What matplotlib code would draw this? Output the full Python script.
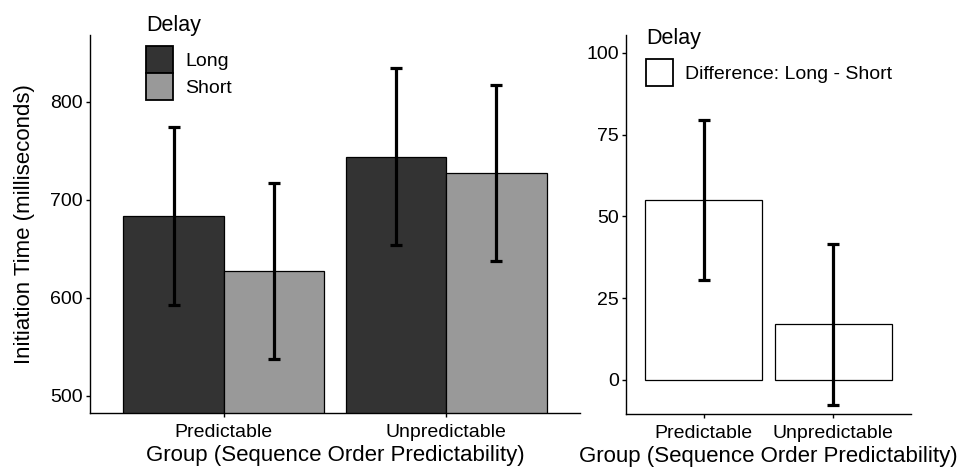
import matplotlib.pyplot as plt
import numpy as np
from matplotlib.patches import Patch

plt.rcParams['font.family'] = ['Liberation Sans', 'DejaVu Sans']

groups = ['Predictable', 'Unpredictable']
delays = ['Long', 'Short']
long_means = [683.5, 744.0]
short_means = [627.5, 727.5]
long_err = [91, 90]
short_err = [90, 90]
diff_means = [55.0, 17.0]
diff_err = [24.5, 24.5]

colors = {'Long': '#333333', 'Short': '#999999'}

fig = plt.figure(figsize=(9.62, 4.68), dpi=100)
ax1 = fig.add_axes([90 / 962, 1 - 413 / 468, 490 / 962, 378 / 468])
ax2 = fig.add_axes([626 / 962, 1 - 414 / 468, 285 / 962, 379 / 468])

x = np.arange(1, len(groups) + 1)
w = 0.45
err_kw = dict(fmt='none', ecolor='black', elinewidth=2.3, capsize=4.5, capthick=2.3, zorder=3)

ax1.bar(x - w / 2, long_means, width=w, color=colors['Long'], edgecolor='black', linewidth=0.9, zorder=2)
ax1.bar(x + w / 2, short_means, width=w, color=colors['Short'], edgecolor='black', linewidth=0.9, zorder=2)
ax1.errorbar(x - w / 2, long_means, yerr=long_err, **err_kw)
ax1.errorbar(x + w / 2, short_means, yerr=short_err, **err_kw)
ax1.set_ylim(482.6, 868)
ax1.set_yticks([500, 600, 700, 800])
ax1.set_ylabel('Initiation Time (milliseconds)', fontsize=16, labelpad=11)

ax2.bar(x, diff_means, width=0.9, color='white', edgecolor='black', linewidth=0.9, zorder=2)
ax2.errorbar(x, diff_means, yerr=diff_err, **err_kw)
ax2.set_ylim(-10.4, 105.5)
ax2.set_yticks([0, 25, 50, 75, 100])

for ax in (ax1, ax2):
    ax.set_xlim(0.4, 2.6)
    ax.set_xticks(x)
    ax.set_xticklabels(groups)
    ax.set_xlabel('Group (Sequence Order Predictability)', fontsize=16, labelpad=3)
    ax.spines['top'].set_visible(False)
    ax.spines['right'].set_visible(False)
    ax.spines['left'].set_linewidth(1.0)
    ax.spines['bottom'].set_linewidth(1.0)
    ax.tick_params(axis='y', labelsize=14, length=3, width=1.0, pad=2, colors='black')
    ax.tick_params(axis='x', labelsize=14, length=3, width=1.0, pad=5, colors='black')

leg_kw = dict(frameon=False, loc='upper left', borderpad=0, borderaxespad=0,
              fontsize=14, title_fontsize=15.5, handlelength=1.4, handleheight=1.76,
              labelspacing=0, handletextpad=0.6, alignment='left')
h1 = [Patch(facecolor=colors[d], edgecolor='black', linewidth=1.3, label=d) for d in delays]
leg1 = fig.legend(handles=h1, title='Delay', bbox_to_anchor=(146 / 962, 1 - 15 / 468), **leg_kw)
leg1._legend_box.sep = 7
h2 = [Patch(facecolor='white', edgecolor='black', linewidth=1.3, label='Difference: Long - Short')]
leg2 = fig.legend(handles=h2, title='Delay', bbox_to_anchor=(646 / 962, 1 - 28 / 468), **leg_kw)
leg2._legend_box.sep = 7

fig.savefig('out.png', dpi=100)
